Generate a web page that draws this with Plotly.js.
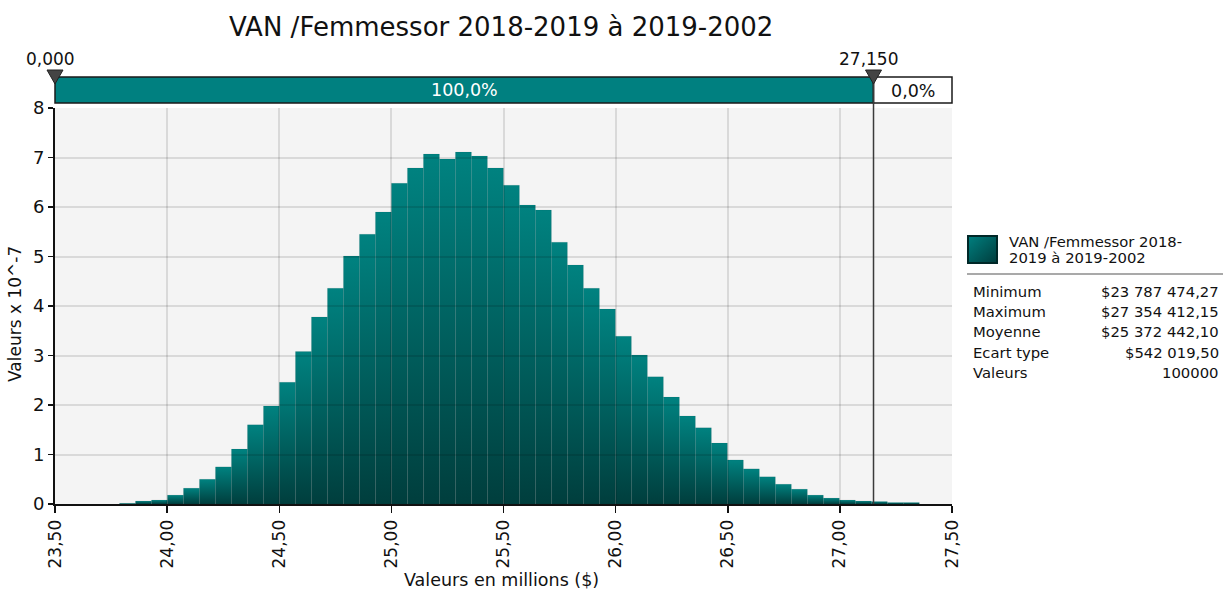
<!DOCTYPE html>
<html><head><meta charset="utf-8">
<script src="https://cdn.plot.ly/plotly-3.0.1.min.js"></script>
<style>html,body{margin:0;padding:0;background:#fff}#chart{width:1225px;height:592px}</style>
</head><body><div id="chart"></div>
<script>
// ---- data ----
const titre = 'VAN /Femmessor 2018-2019 à 2019-2002';
const serieNom = ['VAN /Femmessor 2018-', '2019 à 2019-2002'];
const densite = [
  0.015, 0.06, 0.08, 0.18, 0.32, 0.50, 0.75, 1.11, 1.60, 1.98,
  2.46, 3.08, 3.78, 4.36, 5.01, 5.45, 5.90, 6.48, 6.79, 7.07,
  6.97, 7.11, 7.03, 6.79, 6.44, 6.04, 5.94, 5.29, 4.83, 4.36,
  3.94, 3.39, 3.01, 2.57, 2.16, 1.78, 1.54, 1.23, 0.89, 0.71,
  0.55, 0.40, 0.30, 0.18, 0.12, 0.08, 0.06, 0.05, 0.03, 0.03
];
const valMin = 23.78747427;
const valMax = 27.35441215;
const bornes = [23.5, 27.15];
const bornesLabels = ['0,000', '27,150'];
const pourcentages = ['100,0%', '0,0%'];
const statNoms = ['Minimum', 'Maximum', 'Moyenne', 'Ecart type', 'Valeurs'];
const statValeurs = ['$23 787 474,27', '$27 354 412,15', '$25 372 442,10', '$542 019,50', '100000'];
const xTicks = [23.5, 24.0, 24.5, 25.0, 25.5, 26.0, 26.5, 27.0, 27.5];
const yTicks = [0, 1, 2, 3, 4, 5, 6, 7, 8];

// ---- derived ----
const largeur = (valMax - valMin) / densite.length;
const centres = densite.map((_, i) => valMin + (i + 0.5) * largeur);

// pixel helpers (plot area: x 55..952, y 108..504)
const L = 55, R = 273, T = 108, B = 88, W = 1225, H = 592;
const pw = W - L - R, ph = H - T - B;
const fx = px => (px - L) / pw;
const fy = py => (H - B - py) / ph;

const FONT = 'DejaVu Sans, Verdana, sans-serif';
const xr = [xTicks[0], xTicks[xTicks.length - 1]];
const dx = v => (v - xr[0]) / (xr[1] - xr[0]);   // data x -> paper x

const trace = {
  type: 'bar', x: centres, y: densite, width: largeur,
  marker: { color: '#006a69', line: { width: 0.5, color: 'rgba(0,20,20,0.12)' } },
  hoverinfo: 'x+y', showlegend: false
};

const shapes = [
  // top bar: left (teal) and right (white)
  { type: 'rect', xref: 'paper', yref: 'paper', x0: dx(xr[0]), x1: dx(bornes[1]), y0: fy(103), y1: fy(77),
    fillcolor: '#008080', line: { color: '#1a1a1a', width: 1.5 }, layer: 'above' },
  { type: 'rect', xref: 'paper', yref: 'paper', x0: dx(bornes[1]), x1: dx(xr[1]), y0: fy(103), y1: fy(77),
    fillcolor: '#ffffff', line: { color: '#1a1a1a', width: 1.5 }, layer: 'above' },
  // vertical line at right bound
  { type: 'line', xref: 'paper', yref: 'paper', x0: dx(bornes[1]), x1: dx(bornes[1]), y0: 0, y1: fy(77),
    line: { color: '#3a3a3a', width: 1.5 }, layer: 'above' },
  // legend swatch
  { type: 'rect', xref: 'paper', yref: 'paper', x0: fx(968), x1: fx(997), y0: fy(263), y1: fy(236),
    fillcolor: '#006464', line: { color: '#002828', width: 2 } },
  // legend separator
  { type: 'line', xref: 'paper', yref: 'paper', x0: fx(967), x1: fx(1223), y0: fy(274), y1: fy(274),
    line: { color: '#8c8c8c', width: 1.5 } }
];
// triangle markers
bornes.forEach(b => {
  const d = 8 / pw;
  const c = dx(b);
  shapes.push({ type: 'path', xref: 'paper', yref: 'paper',
    path: `M ${c - d} ${fy(70)} L ${c + d} ${fy(70)} L ${c} ${fy(84)} Z`,
    fillcolor: '#444444', line: { color: '#222', width: 1 }, layer: 'above' });
});

const ann = [];
const txt = (text, x, y, size, opts = {}) => ann.push(Object.assign({
  text, xref: 'paper', yref: 'paper', x, y, showarrow: false,
  font: { family: FONT, size, color: opts.color || '#111' }, xanchor: 'center', yanchor: 'middle'
}, opts.extra || {}));

txt(titre, fx(501), fy(27), 26);
txt(bornesLabels[0], fx(50), fy(59), 17);
txt(bornesLabels[1], fx(868), fy(59), 17);
txt(pourcentages[0], (dx(xr[0]) + dx(bornes[1])) / 2, fy(90), 17.5, { color: '#ffffff' });
txt(pourcentages[1], (dx(bornes[1]) + dx(xr[1])) / 2, fy(91), 17.5);
txt('Valeurs en millions ($)', fx(501), fy(580), 17.5);
txt('Valeurs x 10^-7', fx(15), fy(314), 17, { extra: { textangle: -90 } });
serieNom.forEach((t, i) => txt(t, fx(1007), fy(241 + 16.5 * i), 14.8, { extra: { xanchor: 'left' } }));
statNoms.forEach((t, i) => {
  const yy = fy(291 + 20.4 * i);
  txt(t, fx(971), yy, 14.8, { extra: { xanchor: 'left' } });
  txt(statValeurs[i], fx(1221), yy, 14.8, { extra: { xanchor: 'right' } });
});

const layout = {
  width: W, height: H,
  margin: { l: L, r: R, t: T, b: B, pad: 0 },
  paper_bgcolor: '#ffffff', plot_bgcolor: '#f4f4f4',
  font: { family: FONT, color: '#111' },
  separators: ', ',
  bargap: 0,
  showlegend: false,
  xaxis: {
    range: xr, tickvals: xTicks, tickformat: '.2f', tickangle: -90,
    ticks: 'outside', ticklen: 7, tickwidth: 1.5, tickcolor: '#111',
    showline: true, linecolor: '#111', linewidth: 2,
    showgrid: true, gridcolor: 'rgba(0,0,0,0.11)', gridwidth: 2, zeroline: false,
    tickfont: { family: FONT, size: 17, color: '#111' }, automargin: false, fixedrange: true
  },
  yaxis: {
    range: [yTicks[0], yTicks[yTicks.length - 1]], tickvals: yTicks,
    ticks: 'outside', ticklen: 5, tickwidth: 1.5, tickcolor: '#111',
    showline: true, linecolor: '#111', linewidth: 2,
    showgrid: true, gridcolor: 'rgba(0,0,0,0.11)', gridwidth: 2, zeroline: false,
    tickfont: { family: FONT, size: 18, color: '#111' }, automargin: false, fixedrange: true
  },
  shapes: shapes,
  annotations: ann
};

Plotly.newPlot('chart', [trace], layout, { displayModeBar: false, staticPlot: true }).then(gd => {
  const svg = gd.querySelector('.main-svg');
  const defs = svg.querySelector('defs');
  const NS = 'http://www.w3.org/2000/svg';
  function grad(id, x1, y1, x2, y2, stops) {
    const g = document.createElementNS(NS, 'linearGradient');
    g.setAttribute('id', id);
    g.setAttribute('x1', x1); g.setAttribute('y1', y1);
    g.setAttribute('x2', x2); g.setAttribute('y2', y2);
    stops.forEach(([o, c]) => {
      const s = document.createElementNS(NS, 'stop');
      s.setAttribute('offset', o); s.setAttribute('stop-color', c);
      g.appendChild(s);
    });
    defs.appendChild(g);
  }
  grad('tealBar', 0, 0, 0, 1, [[0, '#008280'], [1, '#003e3d']]);
  grad('tealSwatch', 0, 0, 1, 1, [[0, '#008080'], [1, '#003c3c']]);
  gd.querySelectorAll('.trace.bars .point path').forEach(p => { p.style.fill = 'url(#tealBar)'; });
  gd.querySelectorAll('.shapelayer path').forEach(p => {
    if ((p.style.fill || '').replace(/\s/g, '') === 'rgb(0,100,100)') p.style.fill = 'url(#tealSwatch)';
  });
  // bring gridlines above bars (translucent), as in the reference
  const sub = gd.querySelector('.cartesianlayer .subplot.xy');
  const grid = sub && sub.querySelector('.gridlayer');
  const over = sub && sub.querySelector('.overplot');
  if (grid && over) over.parentNode.insertBefore(grid, over.nextSibling);
});
</script>
</body></html>
